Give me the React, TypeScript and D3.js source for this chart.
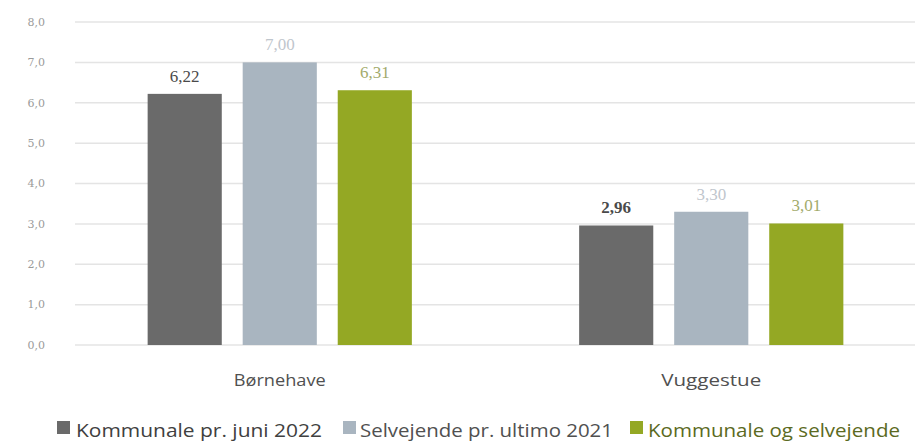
import React from 'react';
import * as d3 from 'd3';

const categories = ['Børnehave', 'Vuggestue'];
const seriesNames = ['Kommunale pr. juni 2022', 'Selvejende pr. ultimo 2021', 'Kommunale og selvejende'];
const kommunale = [6.22, 2.96];
const selvejende = [7.0, 3.3];
const samlet = [6.31, 3.01];
const yTicks = [0, 1, 2, 3, 4, 5, 6, 7, 8];

const barColors = ['#6a6a6a', '#a9b5c0', '#94a824'];
const labelColors = ['#4a4a4a', '#bfc6cd', '#a3ab6c'];
const legendTextColors = ['#404040', '#505050', '#5b6a22'];

const W = 915;
const H = 441;

export default function App() {
  const series = [kommunale, selvejende, samlet];
  const y = d3.scaleLinear().domain([0, 8]).range([345, 22]);
  const x0 = d3.scaleBand<string>().domain(categories).range([64, 927]).paddingInner(0).paddingOuter(0);
  const x1 = d3.scaleBand<number>().domain([0, 1, 2]).range([0, x0.bandwidth()]).paddingInner(0.22).paddingOuter(0.88);
  const fmt = (v: number, d: number) => v.toFixed(d).replace('.', ',');

  // legend layout
  const legend = [
    { mx: 57, tx: 76, tw: 246 },
    { mx: 343, tx: 360, tw: 253 },
    { mx: 630, tx: 648, tw: 252 },
  ];

  return (
    <svg width={W} height={H} style={{ position: 'absolute', left: 0, top: 0, background: '#fff' }}>
      <g>
        {yTicks.map((t) => (
          <g key={t}>
            <line x1={75} x2={915} y1={y(t)} y2={y(t)} stroke="#e4e4e4" strokeWidth={1.5} />
            <text x={45} y={y(t)} dy="0.35em" textAnchor="end" fontFamily="DejaVu Serif" fontSize={11} fill="#9a9a9a">
              {fmt(t, 1)}
            </text>
          </g>
        ))}
      </g>
      {categories.map((c, ci) => (
        <g key={c} transform={`translate(${x0(c)},0)`}>
          {series.map((s, si) => (
            <g key={si}>
              <rect x={x1(si)} y={y(s[ci])} width={x1.bandwidth()} height={y(0) - y(s[ci])} fill={barColors[si]} />
              <text
                x={(x1(si) as number) + x1.bandwidth() / 2}
                y={y(s[ci]) - 12}
                textAnchor="middle"
                fontFamily="Liberation Serif"
                fontWeight={ci === 1 && si === 0 ? 'bold' : 'normal'}
                fontSize={17}
                fill={labelColors[si]}
              >
                {fmt(s[ci], 2)}
              </text>
            </g>
          ))}
          <text
            x={x0.bandwidth() / 2}
            y={386}
            textAnchor="middle"
            fontFamily="Open Sans"
            fontSize={16}
            fill="#505050"
            textLength={ci === 0 ? 92 : 100}
            lengthAdjust="spacingAndGlyphs"
          >
            {c}
          </text>
        </g>
      ))}
      {seriesNames.map((n, i) => (
        <g key={n}>
          <rect x={legend[i].mx} y={421} width={13} height={13} fill={barColors[i]} />
          <text
            x={legend[i].tx}
            y={437}
            fontFamily="Open Sans"
            fontSize={18}
            fill={legendTextColors[i]}
            textLength={legend[i].tw}
            lengthAdjust="spacingAndGlyphs"
          >
            {n}
          </text>
        </g>
      ))}
    </svg>
  );
}
